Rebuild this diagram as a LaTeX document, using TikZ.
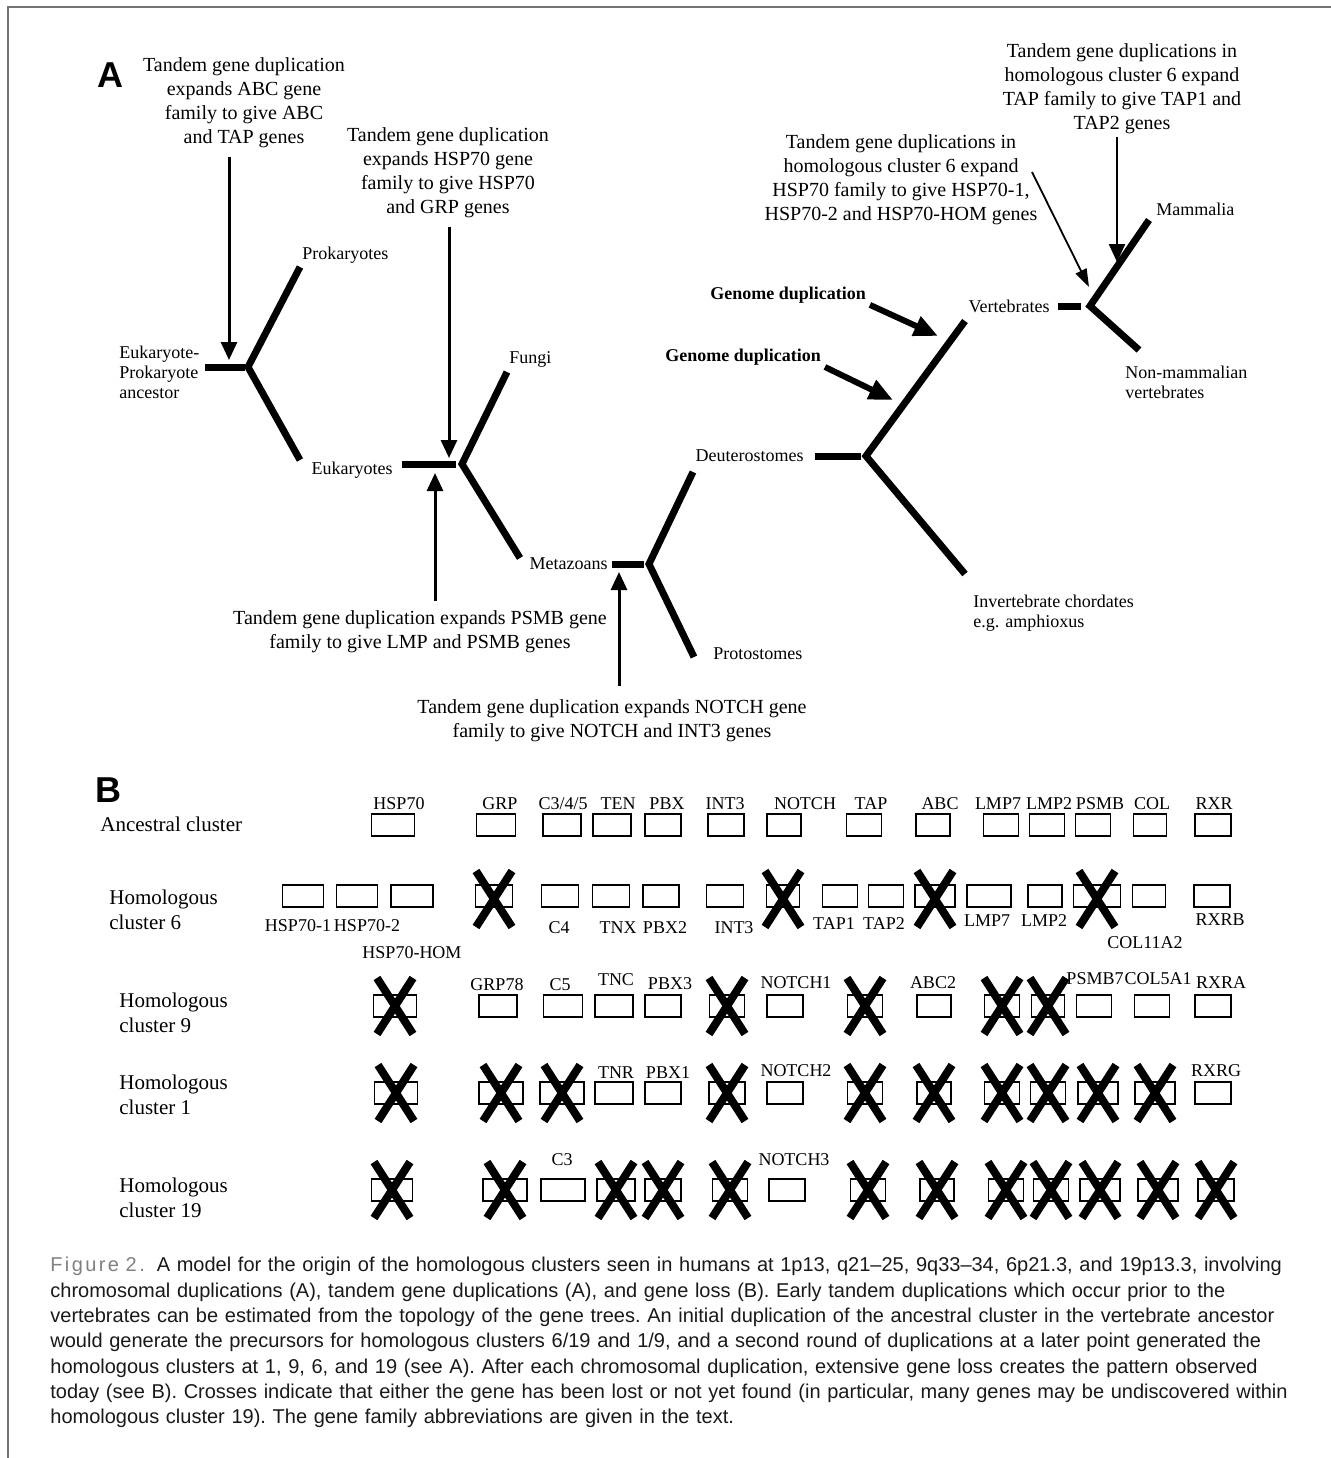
\documentclass[tikz,border=0pt]{standalone}
\usepackage{fontspec}
\setmainfont{Liberation Serif}
\newfontfamily\capfont{Liberation Sans}
\newfontfamily\figfont[LetterSpace=12]{Liberation Sans}
\usepackage{xcolor}
\usepackage{tikz}
\usetikzlibrary{arrows.meta,positioning}
\definecolor{framegray}{gray}{0.45}
\definecolor{capgray}{gray}{0.1}
\definecolor{figgray}{gray}{0.5}

\begin{document}
\begin{tikzpicture}[x=0.5pt,y=-0.5pt,every node/.style={inner sep=0pt},
  note/.style={align=center,font=\fontsize{10}{12}\selectfont},
  lbl/.style={align=left,font=\fontsize{9}{10}\selectfont},
  rowlbl/.style={align=left,anchor=west,font=\fontsize{10.5}{12.5}\selectfont},
  panel/.style={font=\capfont\bfseries\fontsize{18}{18}\selectfont},
  branch/.style={line width=3.5pt},
  arr/.style={line width=1.5pt,-{Triangle[length=9pt,width=8pt]}},
  thinarr/.style={line width=0.9pt,-{Triangle[length=9pt,width=6pt]}},
  garr/.style={line width=3pt,-{Triangle[length=12pt,width=10pt]}},
  gbox/.style={draw,line width=0.7pt,minimum height=11pt},
  cross/.style={line width=4pt},
  gname/.style={anchor=base,font=\fontsize{9}{10}\selectfont},
  capt/.style={text width=619pt,color=capgray,font=\capfont\fontsize{10}{12.65}\selectfont\frenchspacing}]
\useasboundingbox (0,0) rectangle (1331,1458);
\draw[framegray,line width=1pt] (8,1458) -- (8,7) -- (1331,7);

% panel A: tree
\node[panel] (pA) at (110,75) {A};
\coordinate (epL) at (205,367); \coordinate (epR) at (245,367); \coordinate (epF) at (248,367);
\coordinate (proT) at (300,267); \coordinate (eukT) at (300,460);
\coordinate (eukL) at (402,464); \coordinate (eukR) at (456,464); \coordinate (eukF) at (462,464);
\coordinate (funT) at (507,372); \coordinate (metT) at (520,558);
\coordinate (metL) at (612,564); \coordinate (metR) at (644,564); \coordinate (metF) at (649,564);
\coordinate (deuT) at (693,472); \coordinate (prtT) at (694,657);
\coordinate (deuL) at (815,456); \coordinate (deuR) at (861,456); \coordinate (deuF) at (866,456);
\coordinate (verT) at (965,321); \coordinate (invT) at (965,574);
\coordinate (verL) at (1058,306); \coordinate (verR) at (1081,306); \coordinate (verF) at (1090,306);
\coordinate (mamT) at (1149,220); \coordinate (nonT) at (1139,350);
\draw[branch] (epL) -- (epR); \draw[branch] (proT) -- (epF) -- (eukT);
\draw[branch] (eukL) -- (eukR); \draw[branch] (funT) -- (eukF) -- (metT);
\draw[branch] (metL) -- (metR); \draw[branch] (deuT) -- (metF) -- (prtT);
\draw[branch] (deuL) -- (deuR); \draw[branch] (verT) -- (deuF) -- (invT);
\draw[branch] (verL) -- (verR); \draw[branch] (mamT) -- (verF) -- (nonT);

\node[lbl,anchor=west] (lEP) at (119,372) {Eukaryote-\\Prokaryote\\ancestor};
\node[lbl,anchor=base west] (lPro) at (302,259) {Prokaryotes};
\node[lbl,left=4.5pt of eukL,yshift=-3pt] (lEuk) {Eukaryotes};
\node[lbl,anchor=base west] (lFun) at (509,363) {Fungi};
\node[lbl,left=2pt of metL] (lMet) {Metazoans};
\node[lbl,left=5.5pt of deuL] (lDeu) {Deuterostomes};
\node[lbl,anchor=base west] (lPrt) at (713,659) {Protostomes};
\node[lbl,anchor=west] (lInv) at (973,613) {Invertebrate chordates\\e.g. amphioxus};
\node[lbl,left=4pt of verL] (lVer) {Vertebrates};
\node[lbl,anchor=base west] (lMam) at (1156,215) {Mammalia};
\node[lbl,anchor=west] (lNon) at (1125,382) {Non-mammalian\\vertebrates};

\node[note] (nABC) at (244,103) {Tandem gene duplication\\expands ABC gene\\family to give ABC\\and TAP genes};
\node[note] (nHSP) at (448,173) {Tandem gene duplication\\expands HSP70 gene\\family to give HSP70\\and GRP genes};
\node[note] (nPSMB) at (420,632) {Tandem gene duplication expands PSMB gene\\family to give LMP and PSMB genes};
\node[note] (nNOTCH) at (612,721) {Tandem gene duplication expands NOTCH gene\\family to give NOTCH and INT3 genes};
\node[note] (nHSPfam) at (901,180) {Tandem gene duplications in\\homologous cluster 6 expand\\HSP70 family to give HSP70-1,\\HSP70-2 and HSP70-HOM genes};
\node[note] (nTAP) at (1122,89) {Tandem gene duplications in\\homologous cluster 6 expand\\TAP family to give TAP1 and\\TAP2 genes};
\node[lbl,anchor=base west,font=\fontsize{9}{10}\selectfont\bfseries] (gd1) at (710,299) {Genome duplication};
\node[lbl,anchor=base west,font=\fontsize{9}{10}\selectfont\bfseries] (gd2) at (665,361) {Genome duplication};

\coordinate (a1) at (229,360); \coordinate (a2) at (449,458); \coordinate (a3) at (435,473);
\coordinate (a4) at (619,572); \coordinate (a5s) at (1032,172); \coordinate (a5) at (1089,287);
\coordinate (a6) at (1117,262); \coordinate (g1) at (938,336); \coordinate (g2) at (893,400);
\draw[arr,shorten <=4pt] (nABC.south -| a1) -- (a1);
\draw[arr,shorten <=4pt] (nHSP.south -| a2) -- (a2);
\draw[arr,shorten <=5pt] (nPSMB.north -| a3) -- (a3);
\draw[arr,shorten <=7pt] (nNOTCH.north -| a4) -- (a4);
\draw[thinarr] (a5s) -- (a5);
\draw[arr,line width=1.2pt,shorten <=1pt] (nTAP.south -| a6) -- (a6);
\draw[garr,shorten <=2pt] (gd1.south east) -- (g1);
\draw[garr,shorten <=2pt] (gd2.south east) -- (g2);

% panel B: clusters
\node[panel] (pB) at (108,790) {B};
\node[rowlbl] (rA) at (100,824) {Ancestral cluster};
\node[rowlbl] (r6) at (109,910) {Homologous\\cluster 6};
\node[rowlbl] (r9) at (119,1013) {Homologous\\cluster 9};
\node[rowlbl] (r1) at (119,1095) {Homologous\\cluster 1};
\node[rowlbl] (r19) at (119,1198) {Homologous\\cluster 19};

\foreach \x/\w [count=\i] in {393/43,496/39,562/38,612/38,663/36,726/36,784/34,864/35,933/34,1001/35,1047/35,1093/35,1150/33,1213/36}
  \node[gbox,minimum width=\w*0.5pt] (a\i) at (\x,825) {};
\foreach \x/\w/\c [count=\i] in {303/41/0,357/41/0,412/42/0,494/37/1,560/37/0,611/37/0,661/36/0,725/37/0,783/33/1,840/35/0,886/35/0,935/40/1,989/44/0,1045/34/0,1097/47/1,1149/33/0,1212/36/0}{
  \node[gbox,minimum width=\w*0.5pt] (b\i) at (\x,896) {};
  \ifnum\c=1 \draw[cross] ([shift={(-18,-25)}]b\i.center) -- ([shift={(18,31)}]b\i.center) ([shift={(18,-25)}]b\i.center) -- ([shift={(-18,31)}]b\i.center);\fi}
\foreach \x/\w/\c [count=\i] in {395/43/1,498/38/0,563/39/0,614/38/0,663/36/0,727/35/1,785/36/0,865/35/1,934/34/0,1002/35/1,1048/33/1,1094/35/0,1152/35/0,1213/36/0}{
  \node[gbox,minimum width=\w*0.5pt] (c\i) at (\x,1006) {};
  \ifnum\c=1 \draw[cross] ([shift={(-18,-28)}]c\i.center) -- ([shift={(18,28)}]c\i.center) ([shift={(18,-28)}]c\i.center) -- ([shift={(-18,28)}]c\i.center);\fi}
\foreach \x/\w/\c [count=\i] in {396/43/1,501/44/1,562/44/1,614/38/0,663/36/0,727/36/1,785/36/0,865/35/1,934/34/1,1002/35/1,1048/35/1,1098/40/1,1155/40/1,1213/36/0}{
  \node[gbox,minimum width=\w*0.5pt] (d\i) at (\x,1093) {};
  \ifnum\c=1 \draw[cross] ([shift={(-18,-28)}]d\i.center) -- ([shift={(18,28)}]d\i.center) ([shift={(18,-28)}]d\i.center) -- ([shift={(-18,28)}]d\i.center);\fi}
\foreach \x/\w/\c [count=\i] in {392/41/1,505/44/1,563/44/0,616/38/1,663/36/1,730/35/1,787/36/0,868/35/1,937/34/1,1006/35/1,1051/35/1,1100/40/1,1158/40/1,1216/36/1}{
  \node[gbox,minimum width=\w*0.5pt] (e\i) at (\x,1190) {};
  \ifnum\c=1 \draw[cross] ([shift={(-18,-28)}]e\i.center) -- ([shift={(18,28)}]e\i.center) ([shift={(18,-28)}]e\i.center) -- ([shift={(-18,28)}]e\i.center);\fi}

% gene names
\foreach \x/\y/\t [count=\i] in {399/809/HSP70,500/809/GRP,563/809/{C3/4/5},618/809/TEN,667/809/PBX,725/809/INT3,805/809/NOTCH,871/809/TAP,940/809/ABC,998/809/LMP7,1049/809/LMP2,1100/809/PSMB,1152/809/COL,1214/809/RXR,
  298/931/HSP70-1,367/931/HSP70-2,412/958/HSP70-HOM,559/933/C4,618/933/TNX,665/933/PBX2,734/933/INT3,834/929/TAP1,884/929/TAP2,987/926/LMP7,1044/926/LMP2,1145/948/COL11A2,1220/925/RXRB,
  497/990/GRP78,560/990/C5,616/985/TNC,670/989/PBX3,796/988/NOTCH1,933/988/ABC2,1095/984/PSMB7,1158/984/COL5A1,1221/988/RXRA,
  616/1078/TNR,668/1078/PBX1,796/1076/NOTCH2,1216/1076/RXRG,562/1165/C3,794/1165/NOTCH3}
  \node[gname] (g\i) at (\x,\y) {\t};

% caption
\node[capt,anchor=north west] (cap) at (50,1257) {%
\hbox to\hsize{{\figfont\color{figgray}Figure 2.}\hspace{0.6em}A model for the origin of the homologous clusters seen in humans at 1p13, q21–25, 9q33–34, 6p21.3, and 19p13.3, involving}
\hbox to\hsize{chromosomal duplications (A), tandem gene duplications (A), and gene loss (B). Early tandem duplications which occur prior to the}
\hbox to\hsize{vertebrates can be estimated from the topology of the gene trees. An initial duplication of the ancestral cluster in the vertebrate ancestor}
\hbox to\hsize{would generate the precursors for homologous clusters 6/19 and 1/9, and a second round of duplications at a later point generated the}
\hbox to\hsize{homologous clusters at 1, 9, 6, and 19 (see A). After each chromosomal duplication, extensive gene loss creates the pattern observed}
\hbox to\hsize{today (see B). Crosses indicate that either the gene has been lost or not yet found (in particular, many genes may be undiscovered within}
\hbox{homologous cluster 19). The gene family abbreviations are given in the text.}};
\end{tikzpicture}
\end{document}
